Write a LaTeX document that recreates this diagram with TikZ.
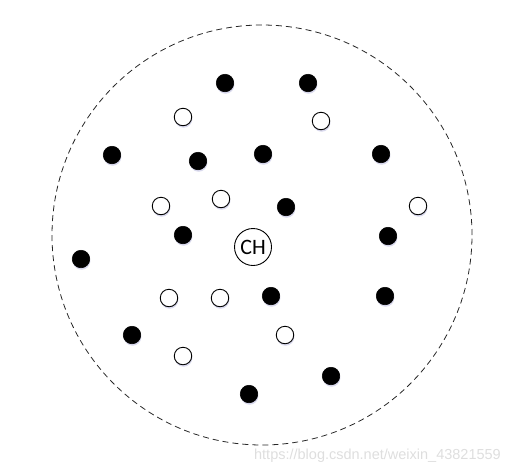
\documentclass[tikz,border=0pt]{standalone}
\usepackage{fontspec}
\setmainfont{Carlito}
\newfontfamily\wmfont{Liberation Sans}
\usetikzlibrary{shadows}
\begin{document}
\begin{tikzpicture}[x=1pt,y=-1pt,
  dotshadow/.style={drop shadow={shadow xshift=0.6pt,shadow yshift=-2pt,fill=blue!35!gray!40,opacity=0.55}},
  bdot/.style={circle,fill=black,draw=black,line width=0.6pt,minimum size=17.5pt,inner sep=0pt,dotshadow},
  wdot/.style={circle,fill=white,draw=black,line width=0.9pt,minimum size=17.5pt,inner sep=0pt,dotshadow},
  chnode/.style={circle,draw=black,line width=0.9pt,minimum size=37pt,inner sep=0pt,font=\fontsize{22}{24}\selectfont},
  boundary/.style={draw=black!85,line width=0.8pt,dash pattern=on 6pt off 4pt}
]
\useasboundingbox (0,0) rectangle (510,472);
\node[draw=none,inner sep=0pt,minimum size=420pt,circle,boundary] (area) at (262,235) {};
% watermark
\node[anchor=east,inner sep=0pt,text=black!13,font=\wmfont\fontsize{14.5}{16}\selectfont] (wm) at (501,456) {https://blog.csdn.net/weixin\_43821559};
% cluster head
\node[chnode] (ch) at (253,247) {CH};
% black nodes
\node[bdot] (b1) at (225,83) {};
\node[bdot] (b2) at (308,83) {};
\node[bdot] (b3) at (112,155) {};
\node[bdot] (b4) at (198,161) {};
\node[bdot] (b5) at (263,154) {};
\node[bdot] (b6) at (381,154) {};
\node[bdot] (b7) at (286,207) {};
\node[bdot] (b8) at (183,235) {};
\node[bdot] (b9) at (388,236) {};
\node[bdot] (b10) at (81,259) {};
\node[bdot] (b11) at (271,296) {};
\node[bdot] (b12) at (385,296) {};
\node[bdot] (b13) at (132,335) {};
\node[bdot] (b14) at (331,376) {};
\node[bdot] (b15) at (249,394) {};
% white nodes
\node[wdot] (w1) at (183,117) {};
\node[wdot] (w2) at (321,121) {};
\node[wdot] (w3) at (161,206) {};
\node[wdot] (w4) at (221,199) {};
\node[wdot] (w5) at (418,206) {};
\node[wdot] (w6) at (169,298) {};
\node[wdot] (w7) at (220,298) {};
\node[wdot] (w8) at (285,335) {};
\node[wdot] (w9) at (183,356) {};
\end{tikzpicture}
\end{document}
